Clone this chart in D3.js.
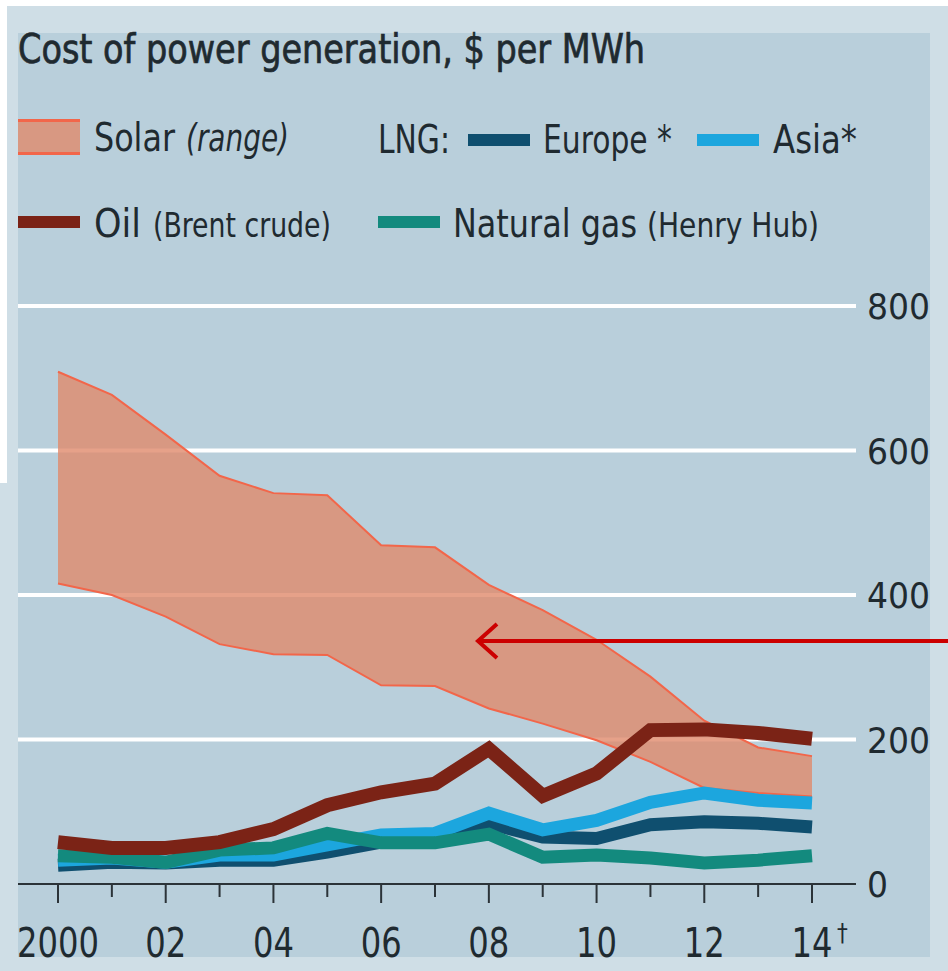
<!DOCTYPE html>
<html>
<head>
<meta charset="utf-8">
<script src="https://cdn.jsdelivr.net/npm/d3@7"></script>
<style>
  html, body { margin: 0; padding: 0; background: #ffffff; }
  svg { display: block; }
  text { font-family: "DejaVu Sans Condensed", "DejaVu Sans", sans-serif; fill: #1f2a30; }
</style>
</head>
<body>
<div id="chart"></div>
<script>
// ---- data ($ per MWh) ----
const years = [2000, 2001, 2002, 2003, 2004, 2005, 2006, 2007, 2008, 2009, 2010, 2011, 2012, 2013, 2014];
const solarHigh = [709, 677, 622, 565, 541, 538, 469, 466, 414, 379, 338, 287, 226, 189, 177];
const solarLow  = [416, 400, 370, 332, 318, 317, 275, 274, 243, 222, 199, 169, 133, 126, 121];
const oilBrent  = [58, 50, 50, 58, 76, 109, 127, 139, 187, 122, 153, 213, 214, 209, 201];
const lngEurope = [26, 30, 29, 33, 33, 44, 58, 62, 84, 65, 63, 82, 86, 84, 79];
const lngAsia   = [33, 36, 30, 40, 40, 54, 68, 70, 98, 75, 88, 113, 126, 116, 112];
const henryHub  = [39, 37, 30, 47, 50, 70, 57, 57, 69, 37, 40, 36, 29, 33, 39];
const yTicks = [0, 200, 400, 600, 800];
const xTickLabels = ["2000", "02", "04", "06", "08", "10", "12", "14"];

const W = 948, H = 971;
const colors = {
    oil: "#7b2316",
    europe: "#0f4f6f",
    asia: "#1ca6de",
    gas: "#138a7e",
    solarFill: "#e08a6c",
    solarEdge: "#f2664a"
};

const svg = d3.select("#chart").append("svg")
    .attr("width", W)
    .attr("height", H);

// backgrounds
svg.append("rect").attr("width", W).attr("height", H).attr("fill", "#cfdee6");
svg.append("rect").attr("x", 0).attr("y", 0).attr("width", W).attr("height", 6).attr("fill", "#ffffff");
svg.append("rect").attr("x", 0).attr("y", 0).attr("width", 7).attr("height", 483).attr("fill", "#ffffff");
svg.append("rect").attr("x", 18).attr("y", 33).attr("width", 912).attr("height", 924).attr("fill", "#b9cfdb");

// scales
const x = d3.scaleLinear().domain([2000, 2014]).range([58, 812]);
const y = d3.scaleLinear().domain([0, 800]).range([884, 306]);
const gridLeft = 18, gridRight = 856;

// gridlines
svg.append("g").selectAll("line")
    .data(yTicks.filter(d => d > 0))
    .enter().append("line")
    .attr("x1", gridLeft).attr("x2", gridRight)
    .attr("y1", d => y(d)).attr("y2", d => y(d))
    .attr("stroke", "#ffffff")
    .attr("stroke-width", 4);

// y labels on the right
svg.append("g").selectAll("text")
    .data(yTicks)
    .enter().append("text")
    .attr("x", 867)
    .attr("y", d => y(d) + 13)
    .style("font-size", "36px")
    .attr("textLength", d => String(d).length * 21)
    .attr("lengthAdjust", "spacingAndGlyphs")
    .text(d => d);

// solar range
const solar = years.map((yr, i) => ({ yr: yr, lo: solarLow[i], hi: solarHigh[i] }));
svg.append("path")
    .datum(solar)
    .attr("d", d3.area().x(d => x(d.yr)).y0(d => y(d.lo)).y1(d => y(d.hi)))
    .attr("fill", colors.solarFill)
    .attr("fill-opacity", 0.8);
["hi", "lo"].forEach(function (k) {
    svg.append("path")
        .datum(solar)
        .attr("d", d3.line().x(d => x(d.yr)).y(d => y(d[k])))
        .attr("fill", "none")
        .attr("stroke", colors.solarEdge)
        .attr("stroke-width", 2);
});

// x axis
svg.append("line")
    .attr("x1", gridLeft).attr("x2", gridRight)
    .attr("y1", y(0)).attr("y2", y(0))
    .attr("stroke", "#2b3338").attr("stroke-width", 2);
svg.append("g").selectAll("line")
    .data(years)
    .enter().append("line")
    .attr("x1", d => x(d)).attr("x2", d => x(d))
    .attr("y1", y(0)).attr("y2", d => y(0) + (d % 2 === 0 ? 19 : 13))
    .attr("stroke", "#2b3338").attr("stroke-width", 2);
svg.append("g").selectAll("text")
    .data(years.filter(d => d % 2 === 0))
    .enter().append("text")
    .attr("x", d => x(d))
    .attr("y", 957)
    .attr("text-anchor", "middle")
    .style("font-size", "40px")
    .attr("textLength", (d, i) => xTickLabels[i].length * 20.5)
    .attr("lengthAdjust", "spacingAndGlyphs")
    .text((d, i) => xTickLabels[i]);
svg.append("text")
    .attr("x", x(2014) + 25)
    .attr("y", 941)
    .style("font-size", "24px")
    .text("\u2020");

// lines
const line = d3.line().x((d, i) => x(years[i])).y(d => y(d));
[[lngEurope, colors.europe], [lngAsia, colors.asia], [henryHub, colors.gas], [oilBrent, colors.oil]]
    .forEach(function ([vals, c]) {
        svg.append("path")
            .datum(vals)
            .attr("d", line)
            .attr("fill", "none")
            .attr("stroke", c)
            .attr("stroke-width", c === colors.oil ? 14 : 13)
            .attr("stroke-linejoin", "miter");
    });

// title
svg.append("text")
    .attr("x", 18).attr("y", 63)
    .style("font-size", "41px")
    .style("stroke", "#1f2a30").style("stroke-width", 0.7)
    .attr("textLength", 627)
    .attr("lengthAdjust", "spacingAndGlyphs")
    .text("Cost of power generation, $ per MWh");

// legend
const leg = svg.append("g");
leg.append("rect").attr("x", 18).attr("y", 119).attr("width", 62).attr("height", 36)
    .attr("fill", colors.solarFill).attr("fill-opacity", 0.8);
leg.append("rect").attr("x", 18).attr("y", 119).attr("width", 62).attr("height", 3).attr("fill", colors.solarEdge);
leg.append("rect").attr("x", 18).attr("y", 152).attr("width", 62).attr("height", 3).attr("fill", colors.solarEdge);

function swatch(x0, cy, c) {
    leg.append("rect").attr("x", x0).attr("y", cy - 6).attr("width", 62).attr("height", 12).attr("fill", c);
}
function label(x0, yb, width, str, size, italic) {
    leg.append("text").attr("x", x0).attr("y", yb)
        .style("font-size", size + "px")
        .style("font-style", italic ? "italic" : "normal")
        .attr("textLength", width)
        .attr("lengthAdjust", "spacingAndGlyphs")
        .text(str);
}
label(94, 151, 81, "Solar", 39);
label(186, 151, 103, "(range)", 37, true);
label(378, 153, 72, "LNG:", 39);
swatch(468, 140, colors.europe);
label(543, 153, 129, "Europe *", 39);
swatch(697, 140, colors.asia);
label(773, 153, 84, "Asia*", 39);

swatch(18, 222, colors.oil);
label(94, 237, 47, "Oil", 39);
label(153, 237, 178, "(Brent crude)", 34);
swatch(378, 222, colors.gas);
label(453, 237, 184, "Natural gas", 39);
label(647, 237, 172, "(Henry Hub)", 34);

// red annotation arrow
const arrow = svg.append("g").attr("stroke", "#cc0000").attr("stroke-width", 4).attr("fill", "none");
arrow.append("line").attr("x1", 948).attr("x2", 479).attr("y1", 641).attr("y2", 641);
arrow.append("path").attr("d", "M497,624 L478,641 L497,658").attr("stroke-linejoin", "miter");
</script>
</body>
</html>
